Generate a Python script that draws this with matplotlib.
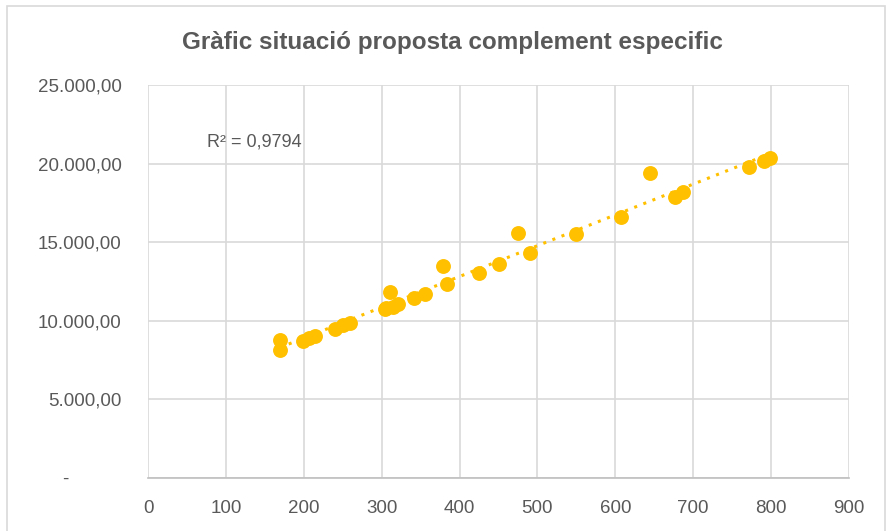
import numpy as np
import matplotlib.pyplot as plt
from matplotlib.ticker import FuncFormatter
from matplotlib.patches import Rectangle

# punts llegits del grafic
punts_x = [169, 169, 199, 207, 215, 240, 250, 259, 304, 306, 311, 315, 321,
           341, 356, 379, 384, 425, 451, 475, 490, 550, 607, 645, 677, 687,
           771, 791, 798]
punts_y = [8780, 8140, 8710, 8880, 9030, 9480, 9730, 9880, 10730, 10800,
           11850, 10890, 11070, 11430, 11700, 13480, 12320, 13060, 13590,
           15600, 14330, 15520, 16580, 19420, 17890, 18170, 19800, 20180, 20330]
r2_text = "R² = 0,9794"
titol = "Gràfic situació proposta complement especific"

x_ticks = list(range(0, 1000, 100))
y_ticks = list(range(0, 30000, 5000))

gris = "#595959"
groc = "#FFC000"

plt.rcParams['font.family'] = ['Liberation Sans', 'DejaVu Sans']

fig = plt.figure(figsize=(8.87, 5.31), dpi=100)
ax = fig.add_axes([148/887, 1-478/531, (849-148)/887, (478-85)/531])

def fmt_y(v, pos):
    if v == 0:
        return "-" + " " * 10
    s = f"{v:,.2f}"
    return s.replace(",", "X").replace(".", ",").replace("X", ".")

ax.scatter(punts_x, punts_y, s=115, color=groc, zorder=3, linewidths=0)

# linia de tendencia (ajust lineal)
a, b = np.polyfit(punts_x, punts_y, 1)
tx = np.array([min(punts_x), max(punts_x)])
ax.plot(tx, a*tx + b, color=groc, lw=2.2, linestyle=(0, (1, 2.2)), zorder=2)

ax.set_xlim(0, 900)
ax.set_ylim(0, 25000)
ax.set_xticks(x_ticks)
ax.set_yticks(y_ticks)
ax.yaxis.set_major_formatter(FuncFormatter(fmt_y))
ax.grid(True, color="#d9d9d9", lw=1.2)
ax.set_axisbelow(True)
for s in ["top", "right", "left"]:
    ax.spines[s].set_visible(False)
ax.spines["bottom"].set_color("#bfbfbf")
ax.spines["bottom"].set_linewidth(1.2)
ax.tick_params(length=0, labelsize=13.5, labelcolor=gris)
ax.tick_params(axis="y", pad=19)
ax.tick_params(axis="x", pad=16)

ax.text(76, 21400, r2_text, fontsize=13, color=gris, va="center")

fig.text(452/887, 1-42/531, titol, ha="center", va="center", fontsize=17.5,
         fontweight="bold", color=gris)

fig.patches.append(Rectangle((7/887, -0.1), 878/887, 1.1 - 6/531,
                             transform=fig.transFigure, fill=False,
                             edgecolor="#d9d9d9", lw=1.2))

fig.savefig("out.png", dpi=100)
